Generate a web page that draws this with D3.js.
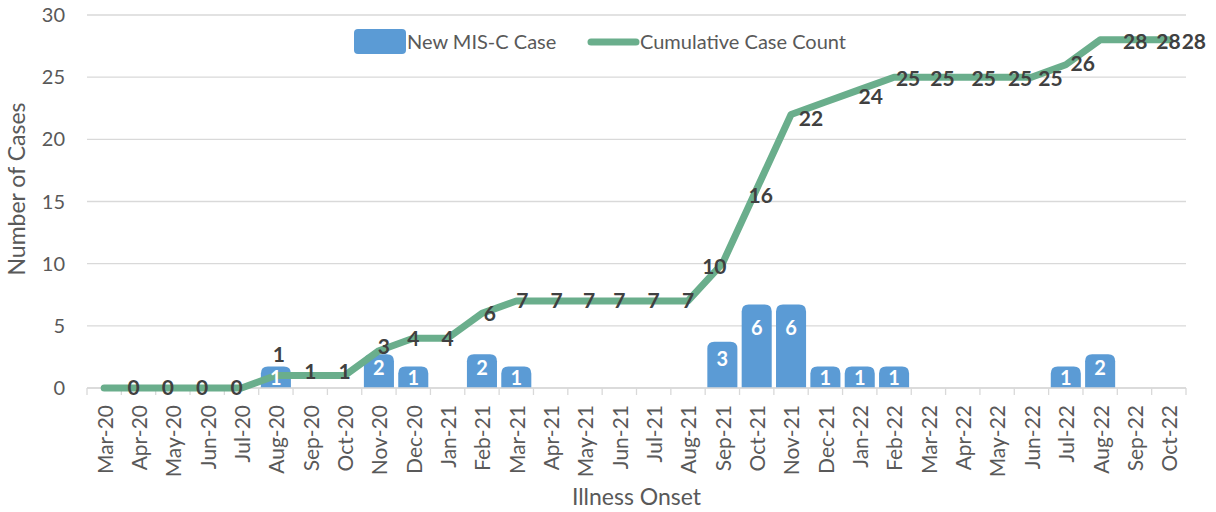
<!DOCTYPE html>
<html lang="en">
<head>
    <meta charset="UTF-8">
    <title>MIS-C Cases by Illness Onset</title>
    <style>
        body { margin: 0; background: #fff; }
        text { font-family: Lato, "Noto Sans", sans-serif; }
        .grid line { stroke: #d9d9d9; stroke-width: 1.3px; }
        .tick-label { fill: #595959; font-size: 20px; }
        .axis-title { fill: #595959; font-size: 23px; }
        .legend-label { fill: #595959; font-size: 20px; }
        .bar-label { fill: #fff; font-weight: bold; font-size: 20px; }
        .line-label { fill: #404040; font-weight: bold; font-size: 21px; }
    </style>
    <script src="https://d3js.org/d3.v7.min.js"></script>
</head>
<body>
    <script>
        // chart data
        const months = ["Mar-20", "Apr-20", "May-20", "Jun-20", "Jul-20", "Aug-20", "Sep-20", "Oct-20",
            "Nov-20", "Dec-20", "Jan-21", "Feb-21", "Mar-21", "Apr-21", "May-21", "Jun-21", "Jul-21",
            "Aug-21", "Sep-21", "Oct-21", "Nov-21", "Dec-21", "Jan-22", "Feb-22", "Mar-22", "Apr-22",
            "May-22", "Jun-22", "Jul-22", "Aug-22", "Sep-22", "Oct-22"];
        const newCases = [0, 0, 0, 0, 0, 1, 0, 0, 2, 1, 0, 2, 1, 0, 0, 0, 0, 0, 3, 6, 6, 1, 1, 1, 0, 0, 0, 0, 1, 2, 0, 0];
        const cumulative = [0, 0, 0, 0, 0, 1, 1, 1, 3, 4, 4, 6, 7, 7, 7, 7, 7, 7, 10, 16, 22, 23, 24, 25, 25, 25, 25, 25, 26, 28, 28, 28];
        const yTicks = [0, 5, 10, 15, 20, 25, 30];
        const hiddenLineLabels = ["Mar-20", "Dec-21"];

        const width = 1216, height = 512;
        const margin = { left: 87, right: 30, top: 15, bottom: 124 };

        const svg = d3.select("body").append("svg")
            .attr("width", width).attr("height", height);

        const x = d3.scaleBand().domain(months)
            .range([margin.left, width - margin.right]).padding(0);
        const y = d3.scaleLinear().domain([0, 30])
            .range([height - margin.bottom, margin.top]);

        const barW = x.step() * 0.875;
        const cx = m => x(m) + x.bandwidth() / 2;

        // gridlines
        svg.append("g").attr("class", "grid")
            .selectAll("line").data(yTicks).enter().append("line")
            .attr("x1", margin.left).attr("x2", width - margin.right)
            .attr("y1", d => y(d)).attr("y2", d => y(d));

        // y tick labels
        svg.append("g").selectAll("text").data(yTicks).enter().append("text")
            .attr("class", "tick-label")
            .attr("x", 65).attr("y", d => y(d))
            .attr("dy", "0.35em").attr("text-anchor", "end")
            .text(d => d);

        // x axis ticks between categories
        const bounds = months.map(m => x(m)).concat([x(months[months.length - 1]) + x.step()]);
        svg.append("g").attr("class", "grid")
            .selectAll("line").data(bounds).enter().append("line")
            .attr("x1", d => d).attr("x2", d => d)
            .attr("y1", y(0)).attr("y2", y(0) + 7);

        svg.append("g").selectAll("text").data(months).enter().append("text")
            .attr("class", "tick-label")
            .attr("transform", m => `translate(${cx(m) + 1},${y(0) + 17}) rotate(-90)`)
            .attr("dy", "0.35em").attr("text-anchor", "end")
            .style("font-size", "21px")
            .text(m => m);

        // bars with rounded tops
        const barData = months.map((m, i) => ({ m, v: newCases[i] })).filter(d => d.v > 0);
        const r = 7, ext = 9;
        function barPath(d) {
            const x0 = cx(d.m) - barW / 2, x1 = x0 + barW;
            const top = y(d.v) - ext, bot = y(0);
            return `M${x0},${bot}V${top + r}Q${x0},${top} ${x0 + r},${top}H${x1 - r}Q${x1},${top} ${x1},${top + r}V${bot}Z`;
        }
        svg.append("g").selectAll("path").data(barData).enter().append("path")
            .attr("d", barPath).attr("fill", "#5b9bd5");

        // axis line over bars
        svg.append("line")
            .attr("x1", margin.left).attr("x2", width - margin.right)
            .attr("y1", y(0)).attr("y2", y(0))
            .attr("stroke", "#d9d9d9").attr("stroke-width", 1.5);

        // cumulative line
        const line = d3.line().x((d, i) => cx(months[i])).y(d => y(d));
        svg.append("path").datum(cumulative)
            .attr("d", line)
            .attr("fill", "none").attr("stroke", "#6aae8c")
            .attr("stroke-width", 7).attr("stroke-linejoin", "round").attr("stroke-linecap", "round");

        // bar labels
        svg.append("g").selectAll("text").data(barData).enter().append("text")
            .attr("class", "bar-label")
            .attr("x", d => cx(d.m))
            .attr("y", d => y(d.v) - ext + Math.min(24, 8 + 3 * d.v))
            .attr("dy", "0.35em").attr("text-anchor", "middle")
            .text(d => d.v);

        // line labels, nudged like the original
        const nudge = { "Aug-20": [3, -21], "Nov-20": [5, -4], "Feb-21": [8, 0], "Mar-21": [6, 0], "Apr-21": [6, 0],
            "May-21": [4, 0], "Sep-21": [-8, 3], "Oct-21": [4, 7], "Nov-21": [20, 4], "Jan-22": [11, 7],
            "Feb-22": [14, 1], "Mar-22": [14, 1], "Apr-22": [21, 1], "May-22": [23, 1], "Jun-22": [19, 1],
            "Jul-22": [17, -1], "Aug-22": [35, 2], "Sep-22": [34, 2], "Oct-22": [25, 2] };
        const lineData = months.map((m, i) => ({ m, v: cumulative[i] }))
            .filter(d => !hiddenLineLabels.includes(d.m));
        svg.append("g").selectAll("text").data(lineData).enter().append("text")
            .attr("class", "line-label")
            .attr("x", d => cx(d.m) + (nudge[d.m] ? nudge[d.m][0] : (d.v === 0 ? -5 : 0)))
            .attr("y", d => y(d.v) + (nudge[d.m] ? nudge[d.m][1] : (d.v === 1 ? -4 : 0)))
            .attr("dy", "0.35em").attr("text-anchor", "middle")
            .text(d => d.v);

        // axis titles
        svg.append("text").attr("class", "axis-title")
            .attr("transform", "translate(17,189) rotate(-90)")
            .attr("dy", "0.35em").attr("text-anchor", "middle")
            .text("Number of Cases");
        svg.append("text").attr("class", "axis-title")
            .attr("x", (margin.left + width - margin.right) / 2).attr("y", 497)
            .attr("dy", "0.35em").attr("text-anchor", "middle")
            .text("Illness Onset");

        // legend
        const legend = svg.append("g");
        legend.append("rect").attr("x", 354).attr("y", 29).attr("width", 52).attr("height", 25)
            .attr("rx", 4).attr("fill", "#5b9bd5");
        legend.append("text").attr("class", "legend-label").attr("x", 407).attr("y", 42)
            .attr("dy", "0.35em").text("New MIS-C Case");
        legend.append("line").attr("x1", 591).attr("x2", 636).attr("y1", 42).attr("y2", 42)
            .attr("stroke", "#6aae8c").attr("stroke-width", 7).attr("stroke-linecap", "round");
        legend.append("text").attr("class", "legend-label").attr("x", 640).attr("y", 42)
            .attr("dy", "0.35em").text("Cumulative Case Count");
    </script>
</body>
</html>
